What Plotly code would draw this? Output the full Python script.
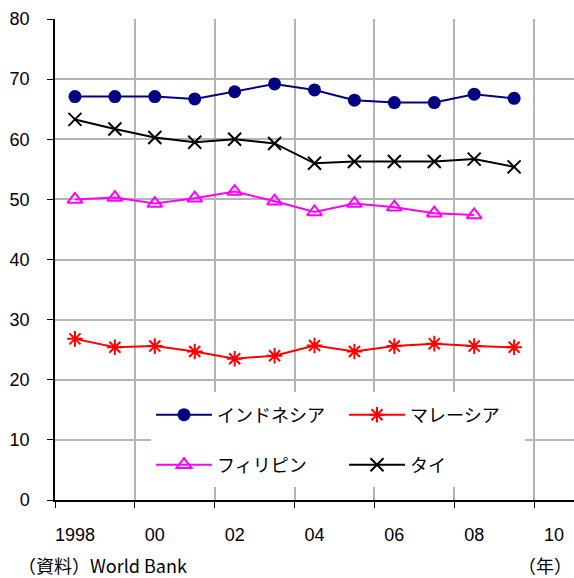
import plotly.graph_objects as go

years = list(range(1998, 2010))
years_ph = list(range(1998, 2009))

indonesia = [67.1, 67.1, 67.1, 66.7, 67.9, 69.2, 68.2, 66.5, 66.1, 66.1, 67.5, 66.8]
malaysia = [26.8, 25.4, 25.6, 24.7, 23.5, 24.0, 25.7, 24.7, 25.6, 26.0, 25.6, 25.4]
philippines = [50.0, 50.3, 49.3, 50.2, 51.3, 49.7, 47.9, 49.3, 48.7, 47.7, 47.4]
thailand = [63.3, 61.7, 60.3, 59.5, 60.0, 59.3, 56.0, 56.3, 56.3, 56.3, 56.7, 55.4]

x_tickvals = [1998, 2000, 2002, 2004, 2006, 2008, 2010]
x_ticktext = ["1998", "00", "02", "04", "06", "08", "10"]
x_gridvals = [1997.5, 1999.5, 2001.5, 2003.5, 2005.5, 2007.5, 2009.5]
y_tickvals = [0, 10, 20, 30, 40, 50, 60, 70, 80]

JP = "Noto Sans CJK JP"
NUM = "Liberation Sans"

fig = go.Figure()
fig.add_trace(go.Scatter(
    x=years, y=indonesia, name="インドネシア", mode="lines+markers",
    line=dict(color="#000080", width=2),
    marker=dict(symbol="circle", size=13, color="#000080"),
    legend="legend"))
fig.add_trace(go.Scatter(
    x=years, y=malaysia, name="マレーシア", mode="lines+markers",
    line=dict(color="#FF0000", width=2),
    marker=dict(symbol="asterisk-open", size=13, color="#FF0000",
                line=dict(color="#FF0000", width=2)),
    legend="legend"))
fig.add_trace(go.Scatter(
    x=years_ph, y=philippines, name="フィリピン", mode="lines+markers",
    line=dict(color="#FF00FF", width=2),
    marker=dict(symbol="triangle-up-open", size=13, color="#FF00FF",
                line=dict(color="#FF00FF", width=2)),
    legend="legend2"))
fig.add_trace(go.Scatter(
    x=years, y=thailand, name="タイ", mode="lines+markers",
    line=dict(color="#000000", width=2),
    marker=dict(symbol="x-thin-open", size=13, color="#000000",
                line=dict(color="#000000", width=2)),
    legend="legend2"))

legend_common = dict(
    orientation="h", bgcolor="rgba(0,0,0,0)", font=dict(family=JP, size=18, color="#000"),
    entrywidth=122, entrywidthmode="pixels", itemwidth=56,
    xanchor="left", yanchor="middle", x=(151 - 55) / 519,
)

fig.update_layout(
    width=574, height=578,
    margin=dict(l=55, r=0, t=19, b=78, autoexpand=False),
    paper_bgcolor="white", plot_bgcolor="white",
    showlegend=True,
    legend=dict(**legend_common, y=(500 - 415) / 481),
    legend2=dict(**legend_common, y=(500 - 465) / 481),
    xaxis=dict(
        range=[1997.5, 2010.5], automargin=False,
        tickmode="array", tickvals=x_tickvals, ticktext=x_ticktext,
        ticks="", showgrid=False, zeroline=False,
        showline=True, linecolor="#000", linewidth=1.5,
        tickfont=dict(family=NUM, size=18, color="#000"),
        ticklabelstandoff=18,
        minor=dict(tickmode="array", tickvals=x_gridvals, ticks="outside",
                   ticklen=6, tickcolor="#000", tickwidth=1,
                   showgrid=True, gridcolor="#b4b4b4", gridwidth=1.5),
    ),
    yaxis=dict(
        range=[0, 80], automargin=False, tickmode="array", tickvals=y_tickvals,
        ticks="outside", ticklen=6, tickcolor="#000",
        showgrid=True, gridcolor="#b4b4b4", gridwidth=1.5, zeroline=False,
        showline=True, linecolor="#000", linewidth=1.5,
        tickfont=dict(family=NUM, size=18, color="#000"),
        ticklabelstandoff=14,
    ),
    shapes=[dict(type="rect", xref="paper", yref="paper",
                 x0=(151 - 55) / 519, x1=(525 - 55) / 519,
                 y0=(500 - 487) / 481, y1=(500 - 392) / 481,
                 fillcolor="white", line=dict(width=0), layer="above")],
    annotations=[
        dict(text="（資料）World Bank", xref="paper", yref="paper",
             x=(16 - 55) / 519, y=-65 / 481, xanchor="left", yanchor="middle",
             showarrow=False, font=dict(family=JP, size=18, color="#000")),
        dict(text="（年）", xref="paper", yref="paper",
             x=1.0, y=-65 / 481, xanchor="right", yanchor="middle",
             showarrow=False, font=dict(family=JP, size=18, color="#000")),
    ],
)

fig.write_html("out.html", config={"displayModeBar": False},
               post_script="document.body.style.margin='0';document.body.style.padding='0';")
